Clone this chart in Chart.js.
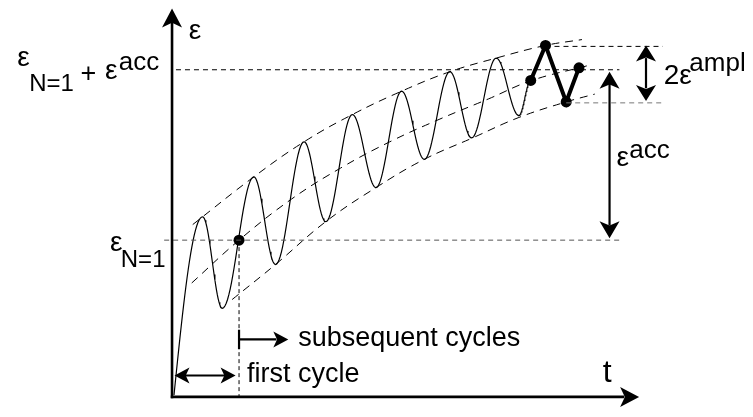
<!DOCTYPE html>
<html>
<head>
<meta charset="utf-8">
<script src="https://cdn.jsdelivr.net/npm/chart.js@4.4.1/dist/chart.umd.min.js"></script>
<style>
  html, body { margin: 0; padding: 0; background: #fff; }
  #wrap { width: 753px; height: 417px; }
</style>
</head>
<body>
<div id="wrap"><canvas id="cyc"></canvas></div>
<script>
// page pixels map 1:1 onto the scales (x: 0..753, y: 0..417, y downwards)

// strain history: start, then peaks and troughs of each cycle
const tPts   = [171, 200, 220, 252, 274, 303, 325, 352, 376, 402, 425, 451, 473, 498, 521];
const epsPts = [400, 217, 311, 176, 266, 140, 222, 112, 187,  88, 158,  68, 136,  54, 113];

// last cycle, drawn heavy
const tLast   = [533, 548, 569, 582];
const epsLast = [ 77,  41,  99,  64];

// start of the subsequent cycles
const tN1 = 237, epsN1 = 241;

// dashed envelopes (upper, mean, lower)
const tUpper   = [190, 252, 303, 352, 402, 451, 498, 548, 585];
const envUpper = [225, 176, 140, 112,  88,  68,  54,  41,  35];
const tMean    = [189, 237, 290, 340, 390, 440, 490, 534, 590];
const envMean  = [285, 241, 199, 167, 140, 117,  96,  77,  62];
const tLower   = [230, 274, 325, 376, 425, 474, 521, 569, 598];
const envLower = [302, 266, 222, 187, 158, 136, 115,  99,  91];

// reference levels
const epsAccLevel = 66;
const epsTopLevel = 42;
const epsLowLevel = 100;

// smooth wave through the peaks/troughs, half-cosine between extremes
function wave(ts, es) {
  const out = [];
  const n = 24;
  for (let i = 0; i < ts.length - 1; i++) {
    for (let k = 0; k <= n; k++) {
      if (i > 0 && k === 0) continue;
      const u = k / n;
      // first loading branch leaves the origin steeply
      const w = i === 0 ? Math.sin(Math.PI * u / 2) : (1 - Math.cos(Math.PI * u)) / 2;
      out.push({ x: ts[i] + (ts[i + 1] - ts[i]) * u, y: es[i] + (es[i + 1] - es[i]) * w });
    }
  }
  return out;
}

const pairs = (xs, ys) => xs.map((x, i) => ({ x: x, y: ys[i] }));

// history runs on to the first heavy point
const history = wave(tPts.concat([tLast[0]]), epsPts.concat([epsLast[0]]));

const envDash = [8, 6];
const hline = (x0, x1, y, col) => ({
  data: [{ x: x0, y: y }, { x: x1, y: y }], borderColor: col || '#000', borderWidth: 1,
  borderDash: [5, 4], pointRadius: 0, tension: 0
});
const envelope = (xs, ys) => ({
  data: pairs(xs, ys), borderColor: '#000', borderWidth: 1, borderDash: envDash,
  pointRadius: 0, tension: 0.4
});

const data = {
  datasets: [
    hline(173, 623, epsAccLevel),
    hline(161, 625, epsN1, '#555'),
    hline(548, 667, epsTopLevel),
    hline(569, 667, epsLowLevel, '#777'),
    {
      data: [{ x: tN1, y: epsN1 }, { x: tN1, y: 402 }], borderColor: '#000', borderWidth: 1,
      borderDash: [4, 3], pointRadius: 0
    },
    envelope(tUpper, envUpper),
    envelope(tMean, envMean),
    envelope(tLower, envLower),
    { data: history, borderColor: '#000', borderWidth: 1.2, pointRadius: 0, tension: 0 },
    { data: pairs(tLast, epsLast), borderColor: '#000', borderWidth: 4, pointRadius: 5.5,
      pointBackgroundColor: '#000', pointBorderWidth: 0, tension: 0 },
    { data: [{ x: tN1, y: epsN1 }], borderColor: '#000', pointRadius: 5.5,
      pointBackgroundColor: '#000', pointBorderWidth: 0, showLine: false }
  ]
};

// axes, arrows and labels
const annotate = {
  id: 'annotate',
  afterDatasetsDraw(chart) {
    const { ctx, scales: { x, y } } = chart;
    const P = (a, b) => [x.getPixelForValue(a), y.getPixelForValue(b)];
    ctx.save();
    ctx.strokeStyle = '#000';
    ctx.fillStyle = '#000';

    const line = (a, b, w) => {
      ctx.lineWidth = w;
      ctx.beginPath(); ctx.moveTo(...P(a[0], a[1])); ctx.lineTo(...P(b[0], b[1])); ctx.stroke();
    };
    const head = (tip, dir, len, half) => {
      const [px, py] = P(tip[0], tip[1]);
      const [dx, dy] = dir;
      ctx.beginPath();
      ctx.moveTo(px, py);
      ctx.lineTo(px - dx * len - dy * half, py - dy * len + dx * half);
      ctx.lineTo(px - dx * len * 0.75, py - dy * len * 0.75);
      ctx.lineTo(px - dx * len + dy * half, py - dy * len - dx * half);
      ctx.closePath();
      ctx.fill();
    };

    // coordinate axes
    line([169, 403.5], [169, 16], 2.6);
    head([169, 3], [0, -1], 19, 10);
    line([167.7, 402], [628, 402], 2.6);
    head([643, 402], [1, 0], 19, 10);

    // first cycle span
    line([180, 380], [225, 380], 2.2);
    head([171.5, 380], [-1, 0], 15, 8);
    head([233.5, 380], [1, 0], 15, 8);

    // subsequent cycles
    line([237, 333], [237, 353], 2.2);
    line([237, 343], [275, 343], 2.2);
    head([287, 343], [1, 0], 15, 8);

    // accumulated strain
    line([613, 80], [613, 226], 2.2);
    head([613, 68], [0, -1], 17, 10);
    head([613, 239], [0, 1], 17, 10);

    // double amplitude
    line([650, 54], [650, 85], 2.2);
    head([650, 41], [0, -1], 16, 10);
    head([650, 98], [0, 1], 16, 10);

    const txt = (s, a, b, size, align) => {
      ctx.font = size + 'px "Liberation Sans", Arial, sans-serif';
      ctx.textAlign = align || 'left';
      ctx.textBaseline = 'alphabetic';
      ctx.fillText(s, ...P(a, b));
    };

    txt('ε', 186, 34, 28);
    txt('t', 606, 387, 32);
    txt('subsequent cycles', 297, 350, 27);
    txt('first cycle', 245, 387, 27);

    // ε_{N=1} + ε^acc
    txt('ε', 12, 62, 28);
    txt('N=1', 24, 88, 24);
    txt('+', 76, 79, 27);
    txt('ε', 101, 76, 28);
    txt('acc', 115, 66, 26);

    // ε_{N=1}
    txt('ε', 106, 252, 28);
    txt('N=1', 117, 269, 24);

    // ε^acc
    txt('ε', 620, 165, 28);
    txt('acc', 633, 157, 26);

    // 2ε^ampl
    txt('2ε', 668, 81, 28);
    txt('ampl', 694, 67, 26);

    ctx.restore();
  }
};

new Chart(document.getElementById('cyc'), {
  type: 'line',
  data: data,
  plugins: [annotate],
  options: {
    responsive: true,
    maintainAspectRatio: false,
    animation: false,
    layout: { padding: 0 },
    plugins: { legend: { display: false }, tooltip: { enabled: false } },
    scales: {
      x: { type: 'linear', min: 0, max: 753, display: false },
      y: { type: 'linear', min: 0, max: 417, reverse: true, display: false }
    }
  }
});
</script>
</body>
</html>
